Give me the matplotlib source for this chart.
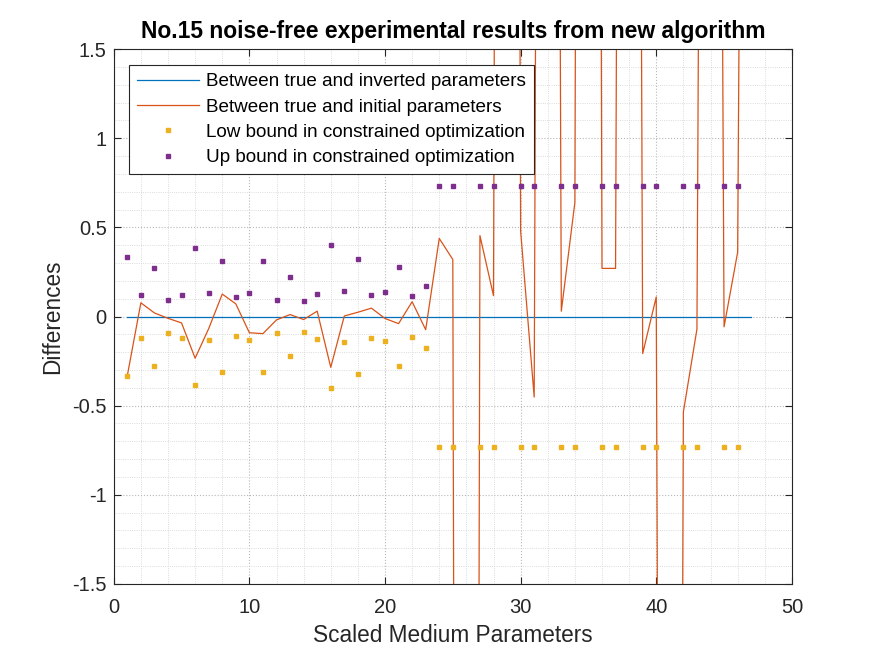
import numpy as np
import matplotlib
matplotlib.use("Agg")
import matplotlib.pyplot as plt
from matplotlib.ticker import MultipleLocator, FixedLocator

plt.rcParams['font.family'] = ['Liberation Sans', 'DejaVu Sans']
plt.rcParams['axes.unicode_minus'] = False

# parameter index
params = list(range(1, 48))

# true - inverted (all essentially zero)
diff_inverted = [0.0, 0.0, 0.0, 0.0, 0.0, 0.0, 0.0, 0.0, 0.0, 0.0,
                 0.0, 0.0, 0.0, 0.0, 0.0, 0.0, 0.0, 0.0, 0.0, 0.0,
                 0.0, 0.0, 0.0, 0.0, 0.0, 0.0, 0.0, 0.0, 0.0, 0.0,
                 0.0, 0.0, 0.0, 0.0, 0.0, 0.0, 0.0, 0.0, 0.0, 0.0,
                 0.0, 0.0, 0.0, 0.0, 0.0, 0.0, 0.0]

# true - initial
diff_initial = [-0.332, 0.077, 0.020, -0.010, -0.036, -0.234, -0.068, 0.126, 0.071, -0.091,
                -0.096, -0.019, 0.011, -0.017, 0.030, -0.285, 0.003, 0.024, 0.047, -0.011,
                -0.040, 0.083, -0.074, 0.438, 0.320, -30.0, 0.454, 0.117, 25.0, 0.48,
                -0.452, 20.0, 0.030, 0.640, 25.0, 0.270, 0.270, 20.0, -0.208, 0.110,
                -20.0, -0.536, -0.071, 15.0, -0.058, 0.360, 12.0]

bound_idx = list(range(1, 47))
nan = float('nan')
up_bound = [0.333, 0.121, 0.275, 0.094, 0.121, 0.383, 0.134, 0.309, 0.108, 0.134,
            0.309, 0.094, 0.221, 0.088, 0.125, 0.400, 0.143, 0.323, 0.121, 0.140,
            0.279, 0.115, 0.174, 0.73, 0.73, nan, 0.73, 0.73, nan, 0.73,
            0.73, nan, 0.73, 0.73, nan, 0.73, 0.73, nan, 0.73, 0.73,
            nan, 0.73, 0.73, nan, 0.73, 0.73]
low_bound = [-0.333, -0.121, -0.275, -0.094, -0.121, -0.383, -0.134, -0.309, -0.108, -0.134,
             -0.309, -0.094, -0.221, -0.088, -0.125, -0.400, -0.143, -0.323, -0.121, -0.140,
             -0.279, -0.115, -0.174, -0.73, -0.73, nan, -0.73, -0.73, nan, -0.73,
             -0.73, nan, -0.73, -0.73, nan, -0.73, -0.73, nan, -0.73, -0.73,
             nan, -0.73, -0.73, nan, -0.73, -0.73]

yticks = [-1.5, -1, -0.5, 0, 0.5, 1, 1.5]
ytick_labels = ['-1.5', '-1', '-0.5', '0', '0.5', '1', '1.5']

fig = plt.figure(figsize=(8.75, 6.56), dpi=100)
ax = fig.add_axes([0.13, 0.11, 0.775, 0.815])

ax.plot(params, diff_inverted, color='#0072BD', lw=0.9,
        label='Between true and inverted parameters')
ax.plot(params, diff_initial, color='#D95319', lw=0.9,
        label='Between true and initial parameters')
ax.plot(bound_idx, low_bound, ls='none', marker='s', ms=3, color='#EDB120',
        label='Low bound in constrained optimization')
ax.plot(bound_idx, up_bound, ls='none', marker='s', ms=3, color='#7E2F8E',
        label='Up bound in constrained optimization')

ax.set_xlim(0, 50)
ax.set_ylim(-1.5, 1.5)
ax.xaxis.set_major_locator(MultipleLocator(10))
ax.xaxis.set_minor_locator(MultipleLocator(2))
ax.yaxis.set_major_locator(FixedLocator(yticks))
ax.set_yticklabels(ytick_labels)
ax.yaxis.set_minor_locator(MultipleLocator(0.1))

ax.grid(True, which='major', ls=':', color='#b8b8b8', lw=0.8)
ax.grid(True, which='minor', ls=':', color='#d0d0d0', lw=0.6)
ax.set_axisbelow(True)

ax.tick_params(which='major', direction='in', top=True, right=True, length=5,
               labelsize=14.5, colors='#262626', width=0.8)
ax.tick_params(axis='x', which='major', pad=10)
ax.tick_params(axis='y', which='major', pad=5)
ax.tick_params(which='minor', length=0)
for s in ax.spines.values():
    s.set_color('#262626')
    s.set_linewidth(0.8)

ax.set_xlabel('Scaled Medium Parameters', fontsize=16.3, color='#262626', labelpad=5)
ax.set_ylabel('Differences', fontsize=16.3, color='#262626', labelpad=6)
ax.set_title('No.15 noise-free experimental results from new algorithm',
             fontsize=16.5, fontweight='bold', pad=8)

leg = ax.legend(loc='upper left', bbox_to_anchor=(0.022, 0.970), borderaxespad=0,
                fontsize=13.6, numpoints=1, handlelength=3.3, handletextpad=0.4,
                fancybox=False, framealpha=1, edgecolor='#262626', labelspacing=0.43,
                borderpad=0.42)
leg.get_frame().set_linewidth(0.8)

fig.savefig('out.png', dpi=100)
